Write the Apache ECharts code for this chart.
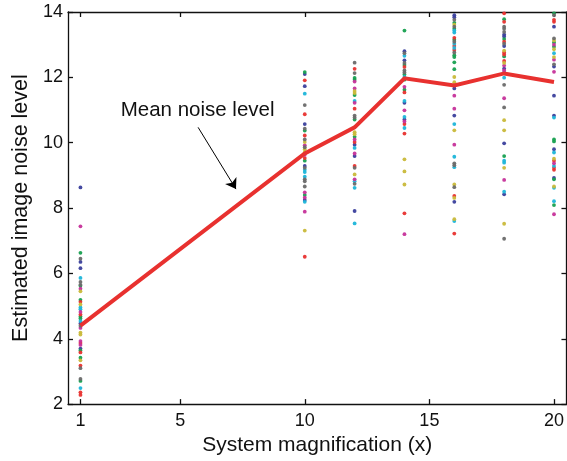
<!DOCTYPE html>
<html>
<head>
<meta charset="utf-8">
<script src="https://cdn.jsdelivr.net/npm/echarts@6/dist/echarts.min.js"></script>
<style>
html,body{margin:0;padding:0;background:#fff;}
#chart{width:567px;height:461px;}
</style>
</head>
<body>
<div id="chart"></div>
<script>
// ---- data ----
const magnifications = [1, 10, 12, 14, 16, 18, 20];
const meanNoise = [4.40, 9.67, 10.47, 11.97, 11.75, 12.12, 11.86];
const xTicks = [1, 5, 10, 15, 20];
const yTicks = [2, 4, 6, 8, 10, 12, 14];

const noise1  = [8.63,7.44,6.63,6.45,6.35,6.16,5.86,5.74,5.65,5.62,5.53,5.45,5.19,5.13,5.05,4.96,4.90,4.82,4.74,4.68,4.62,4.54,4.47,4.40,4.33,4.19,4.13,3.93,3.87,3.81,3.70,3.64,3.58,3.42,3.34,3.18,3.10,2.77,2.71,2.49,2.36,2.28];
const group1  = 'bmgkbbckkgmygryccmrggcbkmyymrmbgrgyrkkgcrr';
const noise10 = [12.16,12.10,11.91,11.73,11.50,11.15,10.87,10.57,10.43,10.37,10.22,10.10,10.02,9.92,9.86,9.80,9.71,9.63,9.53,9.45,9.29,9.23,9.17,9.10,8.96,8.88,8.82,8.66,8.48,8.40,8.32,8.25,8.19,7.89,7.31,6.51];
const group10 = 'gbrbckrbkgrkymkyymrgbkccckkkmgmbcmyr';
const noise12 = [12.45,12.26,12.13,11.98,11.93,11.87,11.66,11.58,11.52,11.46,11.28,11.22,11.04,10.83,10.77,10.71,10.32,10.26,10.18,10.10,10.02,9.94,9.84,9.67,9.59,9.29,9.23,9.03,8.88,8.82,8.74,8.62,7.91,7.53];
const group12 = 'krkggmmyygcmrkkgyygmrbcmbrkymckcbc';
const noise14 = [13.43,12.80,12.74,12.66,12.52,12.44,12.38,12.32,12.21,12.15,12.09,12.01,11.93,11.71,11.62,11.54,11.28,11.22,10.99,10.79,10.71,10.65,10.57,10.45,10.28,9.49,9.12,8.72,7.84,7.20];
const group14 = 'gbkcbkgrkkgcgmgrcbmcbmrcryyyrm';
const noise16 = [13.90,13.84,13.76,13.67,13.61,13.55,13.49,13.43,13.37,13.21,13.15,13.09,13.03,12.96,12.90,12.84,12.76,12.68,12.62,12.46,12.25,12.01,11.85,11.66,11.44,11.04,10.83,10.57,10.38,9.94,9.57,9.37,9.31,9.25,8.72,8.64,8.37,8.31,8.19,7.66,7.60,7.22];
const group16 = 'bbkgykgccrgkcrcrkggggyybmmbcymckkcykrybycr';
const noise18 = [13.96,13.78,13.70,13.55,13.49,13.39,13.31,13.25,13.17,13.09,13.03,12.96,12.82,12.76,12.70,12.64,12.50,12.44,12.36,12.27,12.21,12.15,11.99,11.77,11.36,11.08,10.69,10.38,9.98,9.59,9.45,9.39,9.23,8.86,8.50,8.42,7.52,7.06];
const group18 = 'rgrkkkbbgrkbyrrgrymbmcckmkyybgccymcbyk';
const noise20 = [13.96,13.90,13.76,13.70,13.55,13.19,13.13,13.07,13.00,12.94,12.86,12.74,12.62,12.54,12.40,12.33,12.17,11.44,10.83,10.77,10.10,10.04,9.80,9.70,9.51,9.45,9.37,9.29,9.23,9.17,8.92,8.88,8.66,8.62,8.21,8.09,7.81];
const group20 = 'gkrrbkygmgycymkbmbbcggbcyrmcrrbgyccgm';

const annotationText = 'Mean noise level';
const annotationLabelAt = [5.7, 10.98];
const arrowFrom = [5.72, 10.47];
const arrowTo = [7.24, 8.58];

// ---- styling ----
const palette = {b:'#3a3f9c', g:'#17a050', r:'#e8312f', c:'#1cb5d9', m:'#c6319a', y:'#c9b93a', k:'#6a6a6a'};
const FONT = '"Liberation Sans", Arial, Helvetica, sans-serif';
const INK = '#111';

const columns = [
  [1, noise1, group1], [10, noise10, group10], [12, noise12, group12],
  [14, noise14, group14], [16, noise16, group16], [18, noise18, group18], [20, noise20, group20]
];
const groups = {};
Object.keys(palette).forEach(k => groups[k] = []);
columns.forEach(([x, vals, g]) => {
  vals.forEach((v, i) => groups[g[i]].push([x, v]));
});

const dotSeries = Object.keys(palette).map(k => ({
  type: 'scatter',
  name: k,
  data: groups[k],
  symbol: 'circle',
  symbolSize: 3.8,
  itemStyle: {color: palette[k], opacity: 0.95},
  silent: true,
  z: 2
}));

const axisLineStyle = {color: '#111', width: 1.3};

const chart = echarts.init(document.getElementById('chart'), null, {renderer: 'canvas'});
chart.setOption({
  animation: false,
  backgroundColor: '#fff',
  textStyle: {fontFamily: FONT},
  grid: {left: 68, top: 12, width: 500, height: 394},
  xAxis: [
    {
      type: 'value', min: 0.5, max: 20.5, position: 'bottom',
      axisLine: {show: true, onZero: false, lineStyle: axisLineStyle},
      axisTick: {show: true, inside: true, length: 5, customValues: xTicks, lineStyle: axisLineStyle},
      axisLabel: {show: true, customValues: xTicks, fontSize: 18, color: INK, fontFamily: FONT, margin: 8},
      splitLine: {show: false},
      name: 'System magnification (x)', nameLocation: 'middle', nameGap: 23,
      nameTextStyle: {fontSize: 21, color: INK, fontFamily: FONT}
    },
    {
      type: 'value', min: 0.5, max: 20.5, position: 'top',
      axisLine: {show: true, onZero: false, lineStyle: axisLineStyle},
      axisTick: {show: true, inside: true, length: 5, customValues: xTicks, lineStyle: axisLineStyle},
      axisLabel: {show: false},
      splitLine: {show: false}
    }
  ],
  yAxis: [
    {
      type: 'value', min: yTicks[0], max: yTicks[yTicks.length - 1], interval: 2, position: 'left',
      axisLine: {show: true, onZero: false, lineStyle: axisLineStyle},
      axisTick: {show: true, inside: true, length: 5, lineStyle: axisLineStyle},
      axisLabel: {show: true, fontSize: 18, color: INK, fontFamily: FONT, margin: 5},
      splitLine: {show: false},
      name: 'Estimated image noise level', nameLocation: 'middle', nameGap: 33, nameRotate: 90,
      nameTextStyle: {fontSize: 21.5, color: INK, fontFamily: FONT}
    },
    {
      type: 'value', min: yTicks[0], max: yTicks[yTicks.length - 1], interval: 2, position: 'right',
      axisLine: {show: true, onZero: false, lineStyle: axisLineStyle},
      axisTick: {show: true, inside: true, length: 5, lineStyle: axisLineStyle},
      axisLabel: {show: false},
      splitLine: {show: false}
    }
  ],
  series: dotSeries.concat([{
    type: 'line',
    name: 'Mean noise level',
    data: magnifications.map((x, i) => [x, meanNoise[i]]),
    symbol: 'none',
    lineStyle: {color: '#e8312f', width: 4, join: 'miter'},
    itemStyle: {color: '#e8312f'},
    z: 5,
    silent: true,
    markLine: {
      silent: true,
      animation: false,
      symbol: ['none', 'arrow'],
      symbolSize: 10,
      lineStyle: {color: '#000', width: 1, type: 'solid'},
      label: {show: false},
      data: [[{coord: arrowFrom}, {coord: arrowTo}]]
    },
    markPoint: {
      silent: true,
      animation: false,
      data: [{
        coord: annotationLabelAt,
        symbol: 'rect', symbolSize: 1,
        itemStyle: {color: 'rgba(0,0,0,0)'},
        label: {show: true, position: 'inside', formatter: annotationText, fontSize: 20.5, color: INK, fontFamily: FONT}
      }]
    }
  }])
});
</script>
</body>
</html>
